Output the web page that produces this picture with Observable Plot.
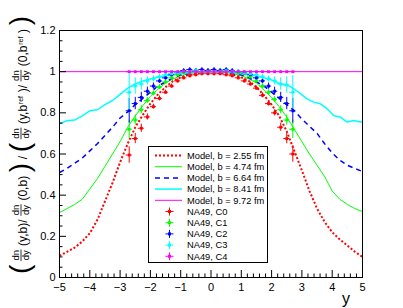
<!DOCTYPE html>
<html><head><meta charset="utf-8">
<script src="https://cdn.jsdelivr.net/npm/d3@7"></script>
<script src="https://cdn.jsdelivr.net/npm/@observablehq/plot@0.6"></script>
<style>
body{margin:0;background:#fff;}
#chart svg{display:block;}
</style></head>
<body><div id="chart"></div>
<script>
// ---------- data ----------
const modelLabels = ["Model, b = 2.55 fm","Model, b = 4.74 fm","Model, b = 6.64 fm","Model, b = 8.41 fm","Model, b = 9.72 fm"];
const dataLabels = ["NA49, C0","NA49, C1","NA49, C2","NA49, C3","NA49, C4"];
const colors = ["#ff0000","#00ff00","#0000ff","#00ffff","#ff00ff"];

const gridX = [-5,-4.75,-4.5,-4.25,-4,-3.75,-3.5,-3.25,-3,-2.75,-2.5,-2.25,-2,-1.75,-1.5,-1.25,-1,-0.75,-0.5,-0.25,0,0.25,0.5,0.75,1,1.25,1.5,1.75,2,2.25,2.5,2.75,3,3.25,3.5,3.75,4,4.25,4.5,4.75,5];
const redV = [0.105,0.125,0.145,0.175,0.215,0.28,0.37,0.46,0.56,0.65,0.73,0.79,0.845,0.89,0.925,0.955,0.972,0.985,0.99,0.995,1.0,0.995,0.99,0.985,0.972,0.955,0.925,0.885,0.84,0.785,0.71,0.615,0.52,0.42,0.335,0.27,0.22,0.185,0.155,0.125,0.10];
const greenV = [0.315,0.335,0.355,0.38,0.43,0.48,0.54,0.60,0.66,0.73,0.785,0.835,0.88,0.915,0.945,0.965,0.98,0.99,0.995,1.0,1.0,1.0,0.995,0.99,0.98,0.965,0.945,0.91,0.875,0.83,0.78,0.72,0.66,0.60,0.545,0.49,0.42,0.38,0.355,0.335,0.32];
const blueV = [0.51,0.53,0.555,0.58,0.615,0.65,0.69,0.73,0.775,0.805,0.84,0.87,0.90,0.93,0.95,0.97,0.985,0.99,1.0,1.0,1.0,1.0,1.0,0.99,0.985,0.97,0.95,0.93,0.90,0.87,0.84,0.81,0.77,0.735,0.70,0.65,0.605,0.57,0.545,0.53,0.515];
const cyanX = [-5,-4.75,-4.5,-4.25,-4,-3.75,-3.5,-3.25,-3,-2.75,-2.5,-2.25,-2,-1.5,-1,-0.5,0,0.5,1,1.5,2,2.29,2.51,2.73,2.95,3.17,3.39,3.61,3.83,4.05,4.27,4.49,4.71,4.93,5];
const cyanV = [0.747,0.762,0.765,0.785,0.81,0.815,0.84,0.86,0.89,0.92,0.94,0.955,0.965,0.98,0.99,1.0,1.0,1.0,0.99,0.98,0.96,0.94,0.936,0.917,0.893,0.868,0.852,0.844,0.82,0.787,0.779,0.755,0.763,0.755,0.757];
const magX = [-5,5];
const magV = [1.0,1.0];

const binY = [-2.7,-2.5,-2.3,-2.1,-1.9,-1.7,-1.5,-1.3,-1.1,-0.9,-0.7,-0.5,-0.3,-0.1,0.1,0.3,0.5,0.7,0.9,1.1,1.3,1.5,1.7,1.9,2.1,2.3,2.5,2.7];
const c0 = [0.595,0.675,0.725,0.78,0.83,0.87,0.90,0.93,0.955,0.97,0.98,0.985,0.99,0.99,0.99,0.99,0.985,0.98,0.97,0.955,0.94,0.92,0.885,0.845,0.80,0.73,0.675,0.60];
const c0e = [0.04,0.025,0.02,0.015,0.012,0.012,0.01,0.01,0.01,0.01,0.01,0.01,0.01,0.01,0.01,0.01,0.01,0.01,0.01,0.01,0.01,0.01,0.012,0.012,0.015,0.02,0.025,0.04];
const c1 = [0.72,0.765,0.815,0.86,0.895,0.925,0.95,0.97,0.985,0.995,1.0,1.005,1.0,1.005,1.0,1.005,1.0,1.0,0.995,0.99,0.975,0.955,0.93,0.90,0.865,0.815,0.765,0.72];
const c1e = [0.045,0.025,0.02,0.015,0.012,0.012,0.01,0.01,0.01,0.01,0.01,0.01,0.01,0.01,0.01,0.01,0.01,0.01,0.01,0.01,0.01,0.01,0.012,0.012,0.015,0.02,0.025,0.045];
const c2 = [0.81,0.845,0.875,0.905,0.93,0.955,0.97,0.985,0.995,1.005,1.01,1.005,1.01,1.005,1.01,1.005,1.01,1.005,1.0,0.995,0.985,0.97,0.955,0.93,0.905,0.875,0.845,0.81];
const c2e = [0.06,0.03,0.025,0.02,0.015,0.012,0.01,0.01,0.01,0.01,0.01,0.01,0.01,0.01,0.01,0.01,0.01,0.01,0.01,0.01,0.01,0.01,0.012,0.015,0.02,0.025,0.03,0.06];
const c3 = [0.90,0.93,0.94,0.955,0.965,0.975,0.985,0.99,0.995,1.0,1.0,1.005,1.0,1.0,1.0,1.0,1.005,1.0,1.0,0.995,0.99,0.985,0.975,0.965,0.955,0.94,0.935,0.90];
const c3e = [0.10,0.04,0.03,0.02,0.015,0.012,0.01,0.01,0.01,0.01,0.01,0.01,0.01,0.01,0.01,0.01,0.01,0.01,0.01,0.01,0.01,0.01,0.012,0.015,0.02,0.03,0.04,0.08];
const c4 = [1,1,1,1,1,1,1,1,1,1,1,1,1,1,1,1,1,1,1,1,1,1,1,1,1,1,1,1];
const c4e = [0,0,0,0,0,0,0,0,0,0,0,0,0,0,0,0,0,0,0,0,0,0,0,0,0,0,0,0];

const xMajor = [-5,-4,-3,-2,-1,0,1,2,3,4,5];
const xMinor = [-4.8,-4.6,-4.4,-4.2,-3.8,-3.6,-3.4,-3.2,-2.8,-2.6,-2.4,-2.2,-1.8,-1.6,-1.4,-1.2,-0.8,-0.6,-0.4,-0.2,0.2,0.4,0.6,0.8,1.2,1.4,1.6,1.8,2.2,2.4,2.6,2.8,3.2,3.4,3.6,3.8,4.2,4.4,4.6,4.8];
const yMajor = [0,0.2,0.4,0.6,0.8,1,1.2];
const yMinor = [0.05,0.1,0.15,0.25,0.3,0.35,0.45,0.5,0.55,0.65,0.7,0.75,0.85,0.9,0.95,1.05,1.1,1.15];

// ---------- build ----------
const W=403,H=308,mL=59,mR=41,mT=30,mB=31;
const plotW=W-mL-mR, plotH=H-mT-mB;
const FONT="'Liberation Sans', Arial, Helvetica, sans-serif";

const models = [
  {x:gridX, v:redV, c:colors[0], w:2, dash:"2,2"},
  {x:gridX, v:greenV, c:colors[1], w:1, dash:null},
  {x:gridX, v:blueV, c:colors[2], w:1.5, dash:"5,4"},
  {x:cyanX, v:cyanV, c:colors[3], w:1.5, dash:null},
  {x:magX, v:magV, c:colors[4], w:1, dash:null}
];
const seriesV=[c0,c1,c2,c3,c4], seriesE=[c0e,c1e,c2e,c3e,c4e];
const pts=[];
seriesV.forEach((arr,s)=>arr.forEach((v,i)=>pts.push({y:binY[i],v,e:seriesE[s][i],c:colors[s]})));

const marks=[];
models.forEach(m=>{
  const d=m.x.map((x,i)=>({x,v:m.v[i]}));
  marks.push(Plot.line(d,{x:"x",y:"v",stroke:m.c,strokeWidth:m.w,strokeDasharray:m.dash,strokeLinecap:"butt",strokeLinejoin:"miter"}));
});
marks.push(Plot.ruleX(pts.filter(d=>d.e>0),{x:"y",y1:d=>d.v-d.e,y2:d=>d.v+d.e,stroke:"c",strokeWidth:1}));
marks.push(Plot.ruleY(pts,{y:"v",x1:d=>d.y-0.1,x2:d=>d.y+0.1,stroke:"c",strokeWidth:1}));
marks.push(Plot.dot(pts,{x:"y",y:"v",fill:"c",symbol:"square",r:1.6}));
marks.push(Plot.tickX(xMajor,{x:d=>d,insetTop:plotH-7,stroke:"black"}));
marks.push(Plot.tickX(xMinor,{x:d=>d,insetTop:plotH-3.5,stroke:"black"}));
marks.push(Plot.tickY(yMajor,{y:d=>d,insetRight:plotW-7,stroke:"black"}));
marks.push(Plot.tickY(yMinor,{y:d=>d,insetRight:plotW-3.5,stroke:"black"}));
marks.push(Plot.frame({stroke:"black",strokeWidth:1}));
marks.push(Plot.axisX({ticks:xMajor,tickSize:0,tickPadding:6,label:null,tickFormat:d=>d<0?"\u2212"+(-d):String(d)}));
marks.push(Plot.axisY({ticks:yMajor,tickSize:0,tickPadding:4,label:null,tickFormat:d=>String(d)}));

const svgNode = Plot.plot({
  width:W,height:H,marginLeft:mL,marginRight:mR,marginTop:mT,marginBottom:mB,
  style:{fontFamily:FONT,fontSize:"11px",background:"white",color:"black"},
  x:{domain:[-5,5]}, y:{domain:[0,1.2]},
  marks
});
document.getElementById("chart").appendChild(svgNode);
const svg=d3.select(svgNode);

// axis title "y"
svg.append("text").attr("x",346).attr("y",304).attr("text-anchor","middle")
  .style("font-family",FONT).style("font-size","16px").text("y");

// legend
const lg=svg.append("g").attr("text-anchor","start");
lg.append("rect").attr("x",148.5).attr("y",146.5).attr("width",119).attr("height",116)
  .attr("fill","white").attr("stroke","black").attr("stroke-width",1);
const rowY0=155.5, rowStep=11.2;
modelLabels.forEach((lab,i)=>{
  const m=models[i], yy=rowY0+i*rowStep;
  lg.append("line").attr("x1",155).attr("x2",182).attr("y1",yy).attr("y2",yy)
    .attr("stroke",m.c).attr("stroke-width",m.w).attr("stroke-dasharray",m.dash);
  lg.append("text").attr("x",187).attr("y",yy).attr("dy","0.35em").attr("text-anchor","start")
    .style("font-family",FONT).style("font-size","9.3px").text(lab);
});
dataLabels.forEach((lab,i)=>{
  const yy=rowY0+(i+5)*rowStep, c=colors[i];
  lg.append("line").attr("x1",165.5).attr("x2",173.5).attr("y1",yy).attr("y2",yy).attr("stroke",c);
  lg.append("line").attr("x1",169.5).attr("x2",169.5).attr("y1",yy-4).attr("y2",yy+4).attr("stroke",c);
  lg.append("rect").attr("x",168).attr("y",yy-1.5).attr("width",3).attr("height",3).attr("fill",c);
  lg.append("text").attr("x",187).attr("y",yy).attr("dy","0.35em").attr("text-anchor","start")
    .style("font-family",FONT).style("font-size","9.3px").text(lab);
});

// y-axis title with fractions (rotated)
const pieces=[
  {t:"paren",s:"("},{t:"frac"},{t:"txt",s:"(y,b)/"},{t:"frac"},{t:"txt",s:"(0,b)"},{t:"paren",s:")"},
  {t:"txt",s:"/"},{t:"paren",s:"("},{t:"frac"},{t:"txt",s:"(y,b"},{t:"sub",s:"ref"},{t:"txt",s:")/"},
  {t:"frac"},{t:"txt",s:"(0,b"},{t:"sub",s:"ref"},{t:"txt",s:")"},{t:"paren",s:")"}
];
const tg=svg.append("g").style("font-family",FONT).attr("text-anchor","start");
const MAIN=12, FR=9.5, SUB=7, PAR=28;
const items=[];
pieces.forEach(p=>{
  if(p.t==="frac"){
    const n=tg.append("text").attr("y",-7.6).attr("text-anchor","middle").style("font-size",FR+"px").text("dn");
    const d=tg.append("text").attr("y",1.8).attr("text-anchor","middle").style("font-size",FR+"px").text("dy");
    const w=Math.max(n.node().getComputedTextLength(),d.node().getComputedTextLength())+1;
    const ln=tg.append("line").attr("y1",-6).attr("y2",-6).attr("stroke","black").attr("stroke-width",0.8);
    items.push({w,gap:p.t,place:x=>{n.attr("x",x+w/2);d.attr("x",x+w/2);ln.attr("x1",x).attr("x2",x+w);}});
  } else {
    const size=p.t==="paren"?PAR:(p.t==="sub"?SUB:MAIN);
    const yb=p.t==="paren"?2:(p.t==="sub"?-4:0);
    const el=tg.append("text").attr("y",yb).attr("text-anchor","start")
      .style("font-size",size+"px").text(p.s);
    const w=el.node().getComputedTextLength();
    items.push({w,t:p.t,place:x=>el.attr("x",x)});
  }
});
const TARGET=264;
let sumW=items.reduce((a,b)=>a+b.w,0);
const gap=Math.max(0,(TARGET-sumW)/(items.length-1));
let cx=0;
items.forEach((it,i)=>{
  // keep subscripts attached to their base
  if(it.t==="sub") cx-=gap*0.8;
  it.place(cx); cx+=it.w+gap;
});
cx-=gap;
tg.attr("transform",`translate(27,${145+cx/2}) rotate(-90)`);
</script>
</body></html>
